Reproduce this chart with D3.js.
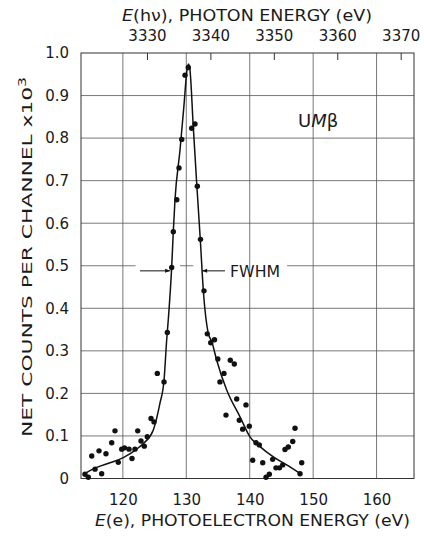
<!DOCTYPE html>
<html>
<head>
<meta charset="utf-8">
<script src="https://cdn.jsdelivr.net/npm/d3@7"></script>
<style>
  body { margin: 0; background: #fff; }
  text { font-family: "DejaVu Sans", sans-serif; fill: #1a1a1a; }
</style>
</head>
<body>
<svg id="chart" width="424" height="538"></svg>
<script>
// measured points (electron energy eV, counts x10^3)
const pointE = [114.03, 114.55, 115.09, 115.61, 116.24, 116.66, 117.34, 118.24, 118.76, 119.28,
  119.82, 120.26, 120.97, 121.44, 121.91, 122.34, 122.86, 123.38, 123.85, 124.44, 124.91,
  125.43, 126.49, 127.01, 127.70, 127.95, 128.5, 128.85, 129.28, 129.80, 130.32,
  130.85, 131.37, 131.74, 132.24, 132.79, 133.31, 133.85, 134.45, 134.97, 135.31, 135.94,
  136.26, 136.94, 137.57, 137.95, 138.36, 138.89, 139.41, 139.93, 140.47, 140.99, 141.51,
  142.05, 142.57, 143.09, 143.62, 144.14, 144.69, 145.20, 145.56, 146.08, 146.78, 147.14,
  147.93, 148.20];
const pointCounts = [0.010, 0.003, 0.053, 0.022, 0.065, 0.011, 0.058, 0.084, 0.112, 0.038,
  0.069, 0.072, 0.069, 0.047, 0.069, 0.112, 0.088, 0.076, 0.098, 0.141, 0.133,
  0.247, 0.227, 0.343, 0.496, 0.580, 0.655, 0.730, 0.797, 0.948, 0.966,
  0.823, 0.833, 0.687, 0.562, 0.441, 0.340, 0.319, 0.326, 0.281, 0.227, 0.247,
  0.149, 0.278, 0.269, 0.187, 0.137, 0.116, 0.173, 0.123, 0.043, 0.084, 0.079,
  0.037, 0.003, 0.010, 0.045, 0.025, 0.025, 0.032, 0.068, 0.074, 0.087, 0.118,
  0.011, 0.037];

// fitted curve
const curveE = [114.03, 115.88, 117.97, 120.07, 122.18, 123.22, 124.80, 125.85, 126.49, 126.91,
  127.16, 127.70, 127.95, 128.22, 129.01, 129.64, 130.11, 130.35, 130.58, 131.10, 131.64,
  132.21, 132.68, 133.47, 134.01, 134.79, 136.37, 138.47, 140.04, 141.62, 143.72, 145.83, 147.93];
const curveCounts = [0.012, 0.026, 0.037, 0.049, 0.069, 0.082, 0.114, 0.177, 0.231, 0.326,
  0.373, 0.498, 0.580, 0.655, 0.772, 0.878, 0.960, 0.974, 0.960, 0.827, 0.694,
  0.561, 0.443, 0.341, 0.322, 0.278, 0.208, 0.145, 0.098, 0.075, 0.051, 0.032, 0.012];

const xTicks = [120, 130, 140, 150, 160];
const photonTicks = [3330, 3340, 3350, 3360, 3370];
const yTicks = [0, 0.1, 0.2, 0.3, 0.4, 0.5, 0.6, 0.7, 0.8, 0.9, 1.0];
const yTickLabels = ["0", "0.1", "0.2", "0.3", "0.4", "0.5", "0.6", "0.7", "0.8", "0.9", "1.0"];

// FWHM marker
const halfLevel = 0.488;
const fwhmLeftArrow = [122.7, 127.45];
const fwhmRightArrow = [136.1, 132.5];
const halfGridPieces = [[113.4, 122.0], [129.0, 131.1], [145.9, 165.9]];

const svg = d3.select("#chart");
const plotL = 81, plotR = 414, plotT = 53, plotB = 478.5;

const x = d3.scaleLinear().domain([113.4, 165.9]).range([plotL, plotR]);
const xTop = d3.scaleLinear().domain([3319.6, 3372.1]).range([plotL, plotR]);
const y = d3.scaleLinear().domain([0, 1]).range([plotB, plotT]);

// grid
const grid = svg.append("g").attr("stroke", "#555").attr("stroke-width", 0.8);
grid.selectAll(".vg").data(xTicks).join("line")
  .attr("x1", d => x(d)).attr("x2", d => x(d))
  .attr("y1", plotT).attr("y2", plotB);
grid.selectAll(".hg").data(yTicks.filter(d => d > 0 && d < 1 && d !== 0.5)).join("line")
  .attr("x1", plotL).attr("x2", plotR)
  .attr("y1", d => y(d)).attr("y2", d => y(d));
grid.selectAll(".hh").data(halfGridPieces).join("line")
  .attr("x1", d => x(d[0])).attr("x2", d => x(d[1]))
  .attr("y1", y(0.5)).attr("y2", y(0.5));

// frame
svg.append("rect")
  .attr("x", plotL).attr("y", plotT)
  .attr("width", plotR - plotL).attr("height", plotB - plotT)
  .attr("fill", "none").attr("stroke", "#333").attr("stroke-width", 1);

// axes
const bottomAxis = svg.append("g")
  .attr("transform", `translate(0,${plotB})`)
  .call(d3.axisBottom(x).tickValues(xTicks).tickSize(0).tickPadding(16));
const topAxis = svg.append("g")
  .attr("transform", `translate(0,${plotT})`)
  .call(d3.axisTop(xTop).tickValues(photonTicks).tickSize(-7).tickPadding(12).tickFormat(d3.format("d")));
const leftAxis = svg.append("g")
  .attr("transform", `translate(${plotL},0)`)
  .call(d3.axisLeft(y).tickValues(yTicks).tickSize(0).tickPadding(12)
    .tickFormat((d, i) => yTickLabels[i]));

[bottomAxis, topAxis, leftAxis].forEach(g => {
  g.attr("font-family", null).attr("font-size", null);
  g.select(".domain").remove();
  g.selectAll("text").attr("font-size", 15).attr("fill", "#1a1a1a");
});
topAxis.selectAll(".tick line").attr("stroke", "#333").attr("stroke-width", 1);

// fitted curve
const line = d3.line()
  .x(d => x(d[0])).y(d => y(d[1]))
  .curve(d3.curveMonotoneX);
svg.append("path")
  .datum(curveE.map((e, i) => [e, curveCounts[i]]))
  .attr("d", line)
  .attr("fill", "none").attr("stroke", "#111").attr("stroke-width", 1.5);

// data dots
svg.selectAll(".dot").data(pointE.map((e, i) => [e, pointCounts[i]])).join("circle")
  .attr("cx", d => x(d[0])).attr("cy", d => y(d[1]))
  .attr("r", 2.7).attr("fill", "#111");

// FWHM arrows
svg.append("defs").append("marker")
  .attr("id", "arr").attr("viewBox", "0 0 10 10")
  .attr("refX", 10).attr("refY", 5)
  .attr("markerWidth", 7).attr("markerHeight", 5)
  .attr("markerUnits", "userSpaceOnUse")
  .attr("orient", "auto")
  .append("path").attr("d", "M0,1 L10,5 L0,9 Z").attr("fill", "#111");
[fwhmLeftArrow, fwhmRightArrow].forEach(a => {
  svg.append("line")
    .attr("x1", x(a[0])).attr("x2", x(a[1]))
    .attr("y1", y(halfLevel)).attr("y2", y(halfLevel))
    .attr("stroke", "#111").attr("stroke-width", 1)
    .attr("marker-end", "url(#arr)");
});
svg.append("text")
  .attr("x", x(136.9)).attr("y", y(halfLevel) + 6)
  .attr("font-size", 15).attr("textLength", 50).attr("lengthAdjust", "spacingAndGlyphs")
  .text("FWHM");

// sample label
const um = svg.append("text").attr("x", 298).attr("y", 127).attr("font-size", 18);
um.append("tspan").text("U");
um.append("tspan").attr("font-style", "italic").text("M");
um.append("tspan").text("β");

// titles
const topTitle = svg.append("text")
  .attr("x", 247).attr("y", 20.5).attr("text-anchor", "middle")
  .attr("font-size", 15).attr("textLength", 250).attr("lengthAdjust", "spacingAndGlyphs");
topTitle.append("tspan").attr("font-style", "italic").text("E");
topTitle.append("tspan").text("(hν), PHOTON ENERGY (eV)");

const bottomTitle = svg.append("text")
  .attr("x", 252.5).attr("y", 526).attr("text-anchor", "middle")
  .attr("font-size", 15).attr("textLength", 315).attr("lengthAdjust", "spacingAndGlyphs");
bottomTitle.append("tspan").attr("font-style", "italic").text("E");
bottomTitle.append("tspan").text("(e), PHOTOELECTRON ENERGY (eV)");

const yTitle = svg.append("text")
  .attr("transform", "translate(32,257) rotate(-90)")
  .attr("text-anchor", "middle")
  .attr("font-size", 14).attr("textLength", 360).attr("lengthAdjust", "spacingAndGlyphs");
yTitle.append("tspan").text("NET COUNTS PER CHANNEL  x10");
yTitle.append("tspan").attr("dy", -6).attr("font-size", 10).text("3");
</script>
</body>
</html>
